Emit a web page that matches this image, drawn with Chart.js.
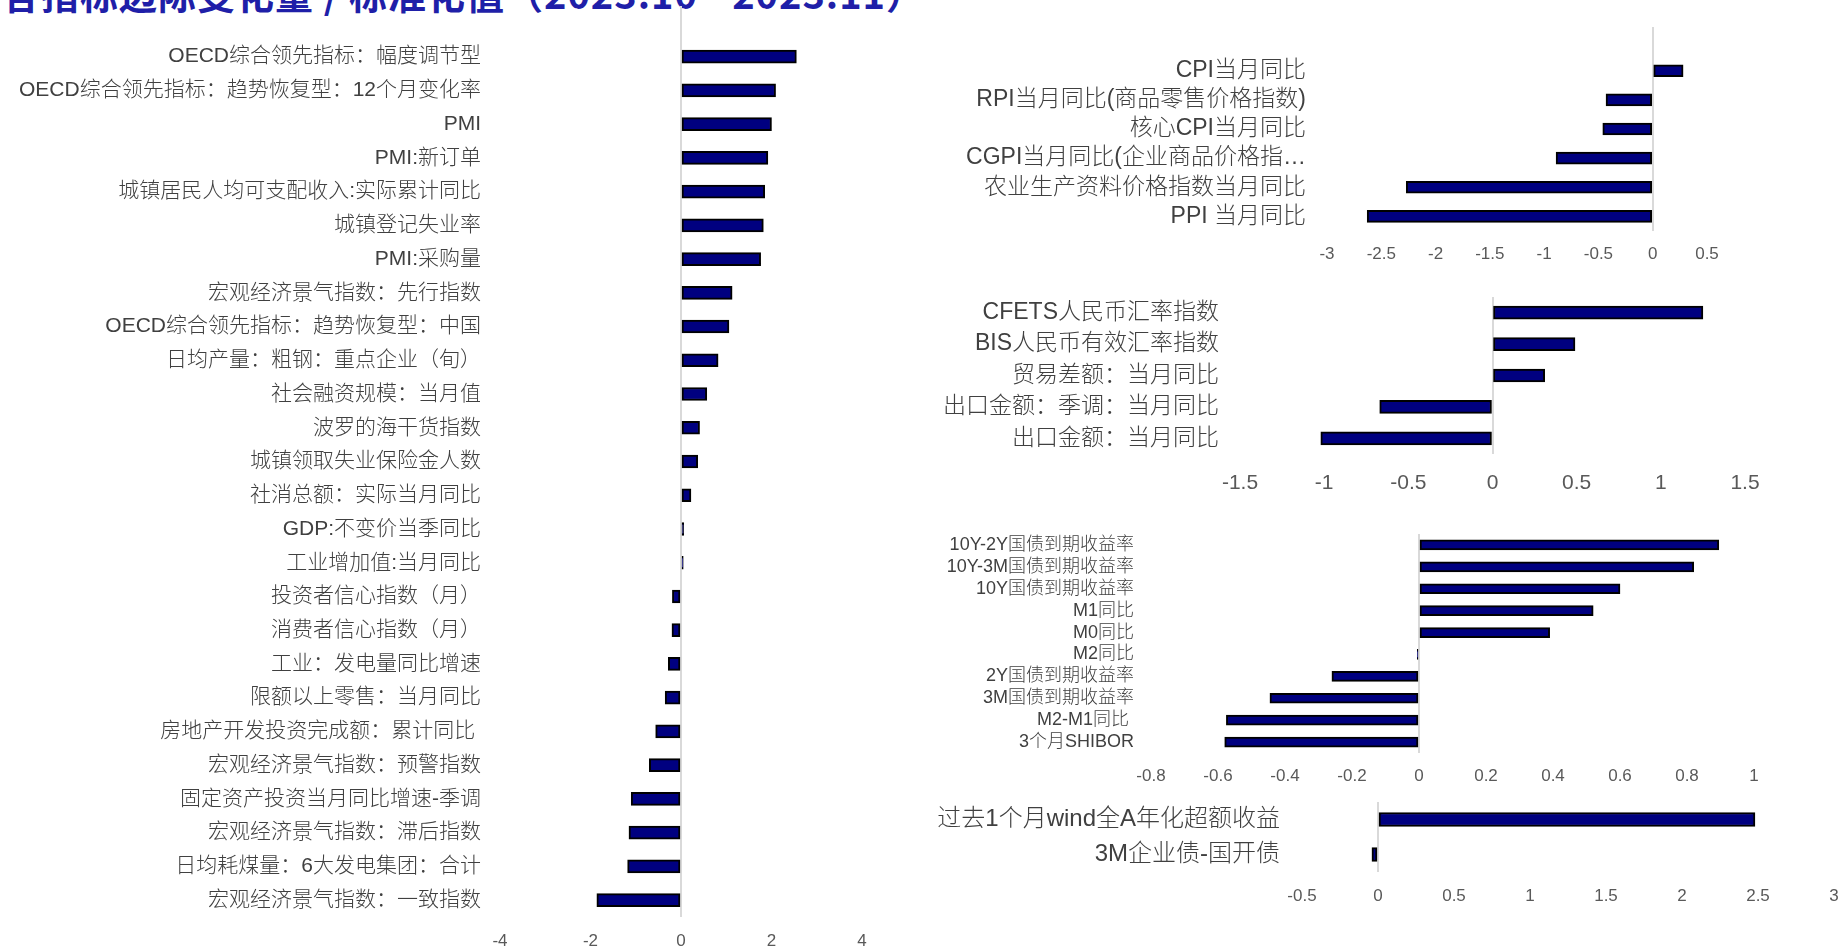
<!DOCTYPE html>
<html>
<head>
<meta charset="utf-8">
<script src="https://cdn.jsdelivr.net/npm/chart.js@4.4.1/dist/chart.umd.min.js"></script>
<style>
  html, body { margin: 0; padding: 0; background: #fff; }
  body { width: 1842px; height: 947px; overflow: hidden; position: relative; }
  canvas { position: absolute; }
  #page_title {
    position: absolute; left: 2px; top: -26px;
    font: bold 38px/38px "Noto Sans CJK SC", sans-serif;
    letter-spacing: 1px;
    color: #1f1fa8; white-space: nowrap;
  }
</style>
</head>
<body>
<div id="page_title">各指标边际变化量 / 标准化值（2023.10 - 2023.11）</div>
<canvas id="macro_chart"></canvas>
<canvas id="price_chart"></canvas>
<canvas id="trade_chart"></canvas>
<canvas id="money_chart"></canvas>
<canvas id="market_chart"></canvas>

<script>
// 宏观指标
const macroLabels = [
  'OECD综合领先指标：幅度调节型',
  'OECD综合领先指标：趋势恢复型：12个月变化率',
  'PMI',
  'PMI:新订单',
  '城镇居民人均可支配收入:实际累计同比',
  '城镇登记失业率',
  'PMI:采购量',
  '宏观经济景气指数：先行指数',
  'OECD综合领先指标：趋势恢复型：中国',
  '日均产量：粗钢：重点企业（旬）',
  '社会融资规模：当月值',
  '波罗的海干货指数',
  '城镇领取失业保险金人数',
  '社消总额：实际当月同比',
  'GDP:不变价当季同比',
  '工业增加值:当月同比',
  '投资者信心指数（月）',
  '消费者信心指数（月）',
  '工业：发电量同比增速',
  '限额以上零售：当月同比',
  '房地产开发投资完成额：累计同比 ',
  '宏观经济景气指数：预警指数',
  '固定资产投资当月同比增速-季调',
  '宏观经济景气指数：滞后指数',
  '日均耗煤量：6大发电集团：合计',
  '宏观经济景气指数：一致指数'
];
const macroValues = [2.55, 2.09, 2.0, 1.92, 1.85, 1.82, 1.76, 1.13, 1.06, 0.82, 0.57, 0.41, 0.37, 0.22,
  0.06, 0.05, -0.19, -0.2, -0.28, -0.35, -0.56, -0.70, -1.10, -1.15, -1.18, -1.86];

// 价格
const priceLabels = [
  'CPI当月同比',
  'RPI当月同比(商品零售价格指数)',
  '核心CPI当月同比',
  'CGPI当月同比(企业商品价格指…',
  '农业生产资料价格指数当月同比',
  'PPI 当月同比'
];
const priceValues = [0.28, -0.43, -0.46, -0.89, -2.27, -2.63];

// 外贸与汇率
const tradeLabels = [
  'CFETS人民币汇率指数',
  'BIS人民币有效汇率指数',
  '贸易差额：当月同比',
  '出口金额：季调：当月同比',
  '出口金额：当月同比'
];
const tradeValues = [1.25, 0.49, 0.31, -0.67, -1.02];

// 货币与利率
const moneyLabels = [
  '10Y-2Y国债到期收益率',
  '10Y-3M国债到期收益率',
  '10Y国债到期收益率',
  'M1同比',
  'M0同比',
  'M2同比',
  '2Y国债到期收益率',
  '3M国债到期收益率',
  'M2-M1同比 ',
  '3个月SHIBOR'
];
const moneyValues = [0.895, 0.82, 0.60, 0.52, 0.39, -0.005, -0.26, -0.445, -0.575, -0.58];

// 市场
const marketLabels = ['过去1个月wind全A年化超额收益', '3M企业债-国开债'];
const marketValues = [2.48, -0.04];

const LABEL_FONT = '"Liberation Sans", "Noto Sans CJK SC", sans-serif';
const BAR_FILL = '#000080';

// box = canvas rect on the page, area = plot rect on the page
function drawBarPanel(canvas_id, labels, values, opt) {
  const cv = document.getElementById(canvas_id);
  const box = opt.box, area = opt.area;
  cv.width = box.w;
  cv.height = box.h;
  cv.style.left = box.x + 'px';
  cv.style.top = box.y + 'px';

  let allLabels = labels, allValues = values;
  if (opt.blankTop) {
    // one empty slot above the first bar
    allLabels = [''].concat(labels);
    allValues = [null].concat(values);
  }

  return new Chart(cv, {
    type: 'bar',
    data: {
      labels: allLabels,
      datasets: [{
        data: allValues,
        backgroundColor: BAR_FILL,
        borderColor: '#000',
        borderWidth: 2,
        borderSkipped: false,
        barThickness: opt.barH
      }]
    },
    options: {
      indexAxis: 'y',
      responsive: false,
      animation: false,
      devicePixelRatio: 1,
      layout: {
        padding: {
          top: area.top - box.y,
          right: box.x + box.w - area.right,
          left: 0,
          bottom: 0
        }
      },
      plugins: { legend: { display: false }, tooltip: { enabled: false } },
      scales: {
        x: {
          min: opt.min,
          max: opt.max,
          afterFit: (s) => {
            s.height = box.y + box.h - area.bottom;
            s.paddingLeft = 0;
            s.paddingRight = 0;
          },
          border: { display: false },
          grid: {
            drawTicks: false,
            lineWidth: 2,
            color: (ctx) => (ctx.tick && Math.abs(ctx.tick.value) < 1e-9) ? '#d9d9d9' : 'rgba(0,0,0,0)'
          },
          ticks: {
            stepSize: opt.step,
            autoSkip: false,
            maxRotation: 0,
            padding: opt.xPad,
            color: '#595959',
            font: { family: LABEL_FONT, size: opt.xFont },
            callback: (v) => String(Number(v.toFixed(3)))
          }
        },
        y: {
          afterFit: (s) => {
            s.width = area.left - box.x;
            s.paddingTop = 0;
            s.paddingBottom = 0;
          },
          border: { display: false },
          grid: { display: false, drawTicks: false },
          ticks: {
            autoSkip: false,
            padding: opt.yPad,
            color: '#404040',
            font: { family: LABEL_FONT, size: opt.yFont, weight: 300 }
          }
        }
      }
    }
  });
}

drawBarPanel('macro_chart', macroLabels, macroValues, {
  box: { x: 0, y: 0, w: 910, h: 947 },
  area: { left: 500, right: 862, top: 6, bottom: 917 },
  blankTop: true, barH: 13,
  min: -4, max: 4, step: 2,
  xFont: 17, xPad: 14, yFont: 21, yPad: 19
});

drawBarPanel('price_chart', priceLabels, priceValues, {
  box: { x: 920, y: 0, w: 922, h: 280 },
  area: { left: 1327, right: 1707, top: 27, bottom: 231 },
  blankTop: true, barH: 12,
  min: -3, max: 0.5, step: 0.5,
  xFont: 17, xPad: 13, yFont: 23, yPad: 21
});

drawBarPanel('trade_chart', tradeLabels, tradeValues, {
  box: { x: 920, y: 280, w: 922, h: 230 },
  area: { left: 1240, right: 1745, top: 297, bottom: 454 },
  blankTop: false, barH: 13,
  min: -1.5, max: 1.5, step: 0.5,
  xFont: 21, xPad: 17, yFont: 23, yPad: 21
});

drawBarPanel('money_chart', moneyLabels, moneyValues, {
  box: { x: 920, y: 510, w: 922, h: 280 },
  area: { left: 1151, right: 1754, top: 534, bottom: 753 },
  blankTop: false, barH: 10,
  min: -0.8, max: 1, step: 0.2,
  xFont: 17, xPad: 13, yFont: 18, yPad: 17
});

drawBarPanel('market_chart', marketLabels, marketValues, {
  box: { x: 920, y: 790, w: 922, h: 157 },
  area: { left: 1302, right: 1834, top: 802, bottom: 872 },
  blankTop: false, barH: 14,
  min: -0.5, max: 3, step: 0.5,
  xFont: 17, xPad: 14, yFont: 24, yPad: 22
});
</script>
</body>
</html>
